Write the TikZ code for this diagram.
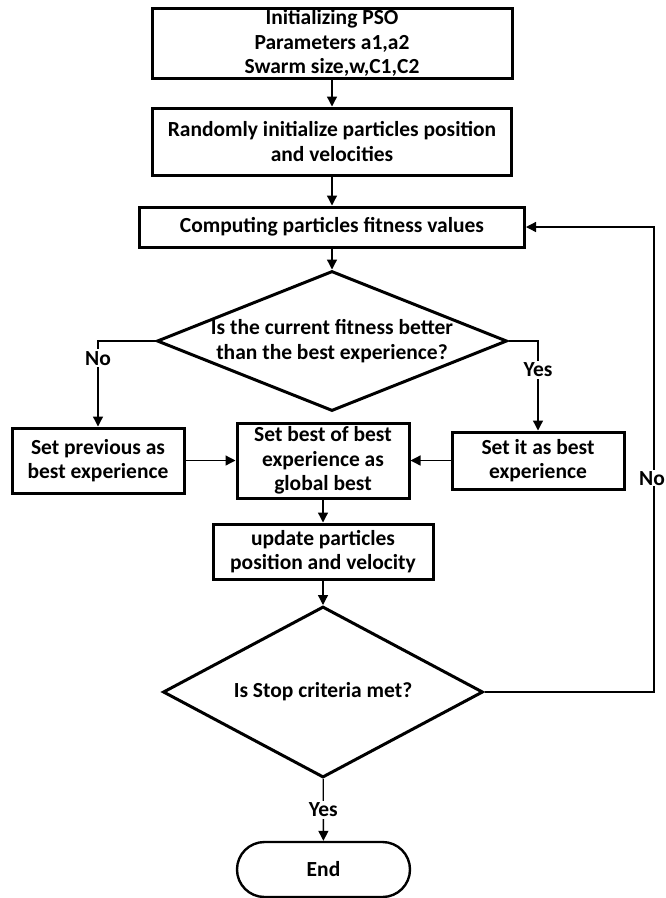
\documentclass[tikz,border=0pt]{standalone}
\usepackage{fontspec}
\setmainfont{Carlito}
\usetikzlibrary{arrows.meta,shapes.geometric,shapes.misc}

\begin{document}
\begin{tikzpicture}[x=1pt,y=-1pt,
		font=\fontsize{21.5}{24.5}\selectfont\bfseries,
		box/.style={draw, line width=3pt, rectangle, inner sep=0pt, align=center},
		decision/.style={draw, line width=3pt, diamond, inner sep=0pt, align=center},
		term/.style={draw, line width=2.4pt, rounded rectangle, inner sep=0pt},
		conn/.style={line width=1.3pt, -{Triangle[length=10pt,width=10pt]}},
		lbl/.style={fill=white, inner sep=2pt}]
		\useasboundingbox (0,0) rectangle (665,898);

		\node[box, minimum width=360pt, minimum height=70pt] (init) at (332,43) {Initializing PSO\\Parameters a1,a2\\Swarm size,w,C1,C2};
		\node[box, minimum width=359pt, minimum height=67pt] (rand) at (332,141.5) {Randomly initialize particles position\\and velocities};
		\node[box, minimum width=385pt, minimum height=40pt] (fit) at (332,227) {Computing particles fitness values};
		\node[decision, aspect=2.5, minimum width=350pt, minimum height=140pt] (better) at (332,341) {Is the current fitness better\\than the best experience?};

		\node[box, minimum width=172pt, minimum height=65pt] (prev) at (98,460.5) {Set previous as\\best experience};
		\node[box, minimum width=172pt, minimum height=75pt] (gbest) at (323,460.5) {Set best of best\\experience as\\global best};
		\node[box, minimum width=172pt, minimum height=57pt] (itbest) at (538,460.5) {Set it as best\\experience};

		\node[box, minimum width=220pt, minimum height=55pt] (upd) at (323,551.5) {update particles\\position and velocity};
		\node[decision, aspect=1.87, minimum width=320pt, minimum height=171pt] (stop) at (323,692) {Is Stop criteria met?};
		\node[term, minimum width=173pt, minimum height=55pt] (end) at (323.5,869.5) {End};
		\coordinate (back) at (654,692);

		\draw[conn] (init) -- (rand);
		\draw[conn] (rand) -- (fit);
		\draw[conn] (fit) -- (better);
		\draw[conn] (better.west) -| node[lbl, pos=0.6] {No} (prev.north);
		\draw[conn] (better.east) -| node[lbl, pos=0.66] {Yes} (itbest.north);
		\draw[conn] (prev) -- (gbest);
		\draw[conn] (itbest) -- (gbest);
		\draw[conn] (gbest) -- (upd);
		\draw[conn] (upd) -- (stop);
		\draw[conn] (stop) -- node[lbl] {Yes} (end);
		\draw[conn] (stop.east) -- (back) |- node[lbl, inner sep=1pt, pos=0.23, xshift=-2pt] {No} (fit.east);
\end{tikzpicture}
\end{document}
